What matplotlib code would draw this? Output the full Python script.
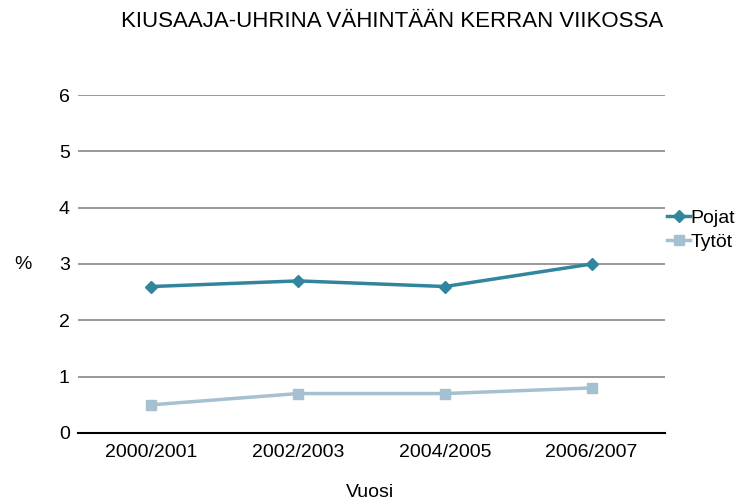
import matplotlib.pyplot as plt

years = ["2000/2001", "2002/2003", "2004/2005", "2006/2007"]
pojat = [2.6, 2.7, 2.6, 3.0]
tytot = [0.5, 0.7, 0.7, 0.8]

plt.rcParams['font.family'] = ['Liberation Sans', 'DejaVu Sans']

fig = plt.figure(figsize=(7.51, 5.04), dpi=100)
ax = fig.add_axes([0.1039, 0.1409, 0.7816, 0.6706])

x = range(len(years))
ax.plot(x, pojat, color="#31859C", lw=2.5, marker="D", ms=6, label="Pojat")
ax.plot(x, tytot, color="#A5C0D0", lw=2.5, marker="s", ms=7, label="Tytöt")

ax.set_xlim(-0.5, len(years) - 0.5)
ax.set_ylim(0, 6)
ax.set_yticks(range(0, 7))
ax.set_xticks(list(x))
ax.set_xticklabels(years)
ax.tick_params(length=0, labelsize=14, pad=8)
ax.tick_params(axis="y", pad=6)
ax.grid(axis="y", color="#888888", lw=1.2)
ax.set_axisbelow(True)
for s in ["top", "right", "left"]:
    ax.spines[s].set_visible(False)
ax.spines["bottom"].set_color("black")
ax.spines["bottom"].set_linewidth(1.5)

fig.text(0.522, 0.958, "KIUSAAJA-UHRINA VÄHINTÄÄN KERRAN VIIKOSSA", ha="center", va="center", fontsize=16)
fig.text(0.03, 0.476, "%", ha="center", va="center", fontsize=14)
fig.text(0.493, 0.022, "Vuosi", ha="center", va="center", fontsize=14)

ax.legend(loc="center left", bbox_to_anchor=(0.99, 0.6), frameon=False, fontsize=14,
          handlelength=1.2, handletextpad=0.0, labelspacing=0.3, borderaxespad=0)

fig.savefig("out.png", dpi=100)
